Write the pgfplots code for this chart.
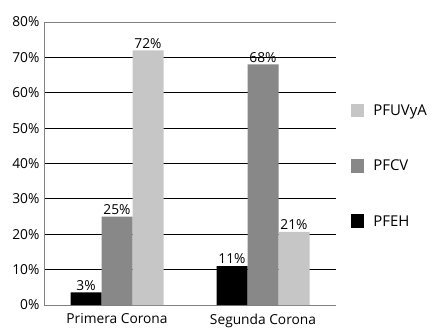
\documentclass[border=0pt]{standalone}
\usepackage{pgfplots}
\pgfplotsset{compat=1.18}
\usepackage{fontspec}
\setmainfont{Open Sans}
\definecolor{lgray}{RGB}{198,198,198}
\definecolor{mgray}{RGB}{136,136,136}
\definecolor{axgray}{RGB}{130,130,130}
\begin{document}
\begin{tikzpicture}
\useasboundingbox (-44bp,-28bp) rectangle (389bp,305bp);
\begin{axis}[
  at={(0,0)}, anchor=south west,
  scale only axis, width=292bp, height=283bp,
  ybar=0pt, bar width=31bp,
  xmin=-0.5, xmax=1.5, ymin=0, ymax=80,
  xtick={0,1}, xticklabels={Primera Corona, Segunda Corona},
  x tick label style={yshift=-3bp},
  extra x ticks={-0.5,0.5,1.5}, extra x tick labels={},
  extra x tick style={major tick length=4bp, tick style={axgray, line width=0.8pt}, tick align=outside},
  major x tick style={draw=none},
  ytick={0,10,...,80},
  yticklabel={\pgfmathprintnumber{\tick}\%},
  /pgf/number format/assume math mode=true,
  major y tick style={draw=none},
  axis x line=bottom, axis y line=left,
  axis line style={axgray, line width=0.8pt, -},
  ymajorgrids, grid style={black, line width=0.8pt},
  tick label style={font=\fontsize{13.8}{15}\selectfont},
  y tick label style={xshift=1bp},
  point meta=explicit,
  nodes near coords={\pgfmathprintnumber{\pgfplotspointmeta}\%},
  every node near coord/.append style={font=\fontsize{13.8}{15}\selectfont, black, yshift=-1.5bp},
  legend style={draw=none, fill=none, at={(1.05,0.715)}, anchor=north west,
    font=\fontsize{15}{16}\selectfont, row sep=39bp, inner sep=0pt,
    nodes={inner xsep=9bp}},
  legend cell align=left,
  reverse legend,
  legend image code/.code={\fill[#1] (0bp,-6.5bp) rectangle (13.5bp,7bp);},
  clip=false,
]
\addplot[fill=black, draw=none] coordinates {(0,3.6) [3] (1,11) [11]};
\addplot[fill=mgray, draw=none] coordinates {(0,25) [25] (1,68) [68]};
\addplot[fill=lgray, draw=none] coordinates {(0,72) [72] (1,20.7) [21]};
\legend{PFEH, PFCV, PFUVyA}
\draw[axgray, line width=0.8pt] (rel axis cs:0,1) -- (rel axis cs:1,1);
\end{axis}
\end{tikzpicture}
\end{document}
